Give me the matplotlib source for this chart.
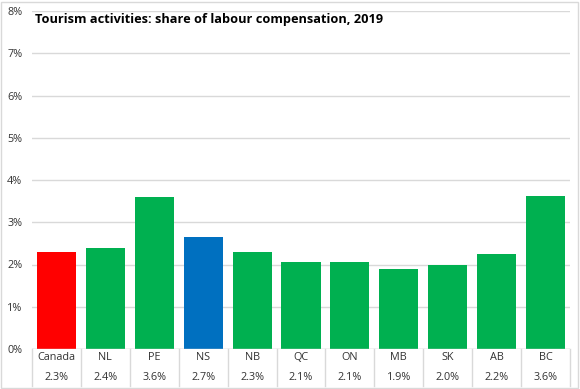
import matplotlib
matplotlib.use("Agg")
import matplotlib.pyplot as plt
from matplotlib.transforms import blended_transform_factory
from matplotlib.patches import Rectangle

categories = ["Canada", "NL", "PE", "NS", "NB", "QC", "ON", "MB", "SK", "AB", "BC"]
values = [2.30, 2.39, 3.60, 2.65, 2.30, 2.06, 2.06, 1.89, 1.99, 2.25, 3.62]
value_labels = ["2.3%", "2.4%", "3.6%", "2.7%", "2.3%", "2.1%", "2.1%", "1.9%", "2.0%", "2.2%", "3.6%"]
colors = ["#FF0000", "#00B050", "#00B050", "#0070C0", "#00B050", "#00B050",
          "#00B050", "#00B050", "#00B050", "#00B050", "#00B050"]
yticks = [0, 1, 2, 3, 4, 5, 6, 7, 8]
title = "Tourism activities: share of labour compensation, 2019"

W, H = 580, 389
fig = plt.figure(figsize=(W / 100, H / 100), dpi=100)
plt.rcParams['font.family'] = ['Open Sans', 'DejaVu Sans']

# outer border
fig.patches.append(Rectangle((1 / W, 1 / H), (W - 3) / W, (H - 3) / H, transform=fig.transFigure,
                             fill=False, edgecolor="#d9d9d9", linewidth=1))

left, right = 32 / W, 570 / W
bottom, top = (H - 349) / H, (H - 11) / H
ax = fig.add_axes([left, bottom, right - left, top - bottom])

x = list(range(len(categories)))
ax.bar(x, values, width=0.8, color=colors, zorder=3)
ax.set_xlim(-0.5, len(categories) - 0.5)
ax.set_ylim(0, 8)
ax.set_yticks(yticks)
ax.set_yticklabels([f"{t}%" for t in yticks], fontsize=7.8, color="#333333")
ax.tick_params(axis="y", length=0, pad=7)
ax.set_xticks([])
ax.grid(axis="y", color="#d9d9d9", linewidth=1, zorder=0)
for s in ax.spines.values():
    s.set_visible(False)
ax.axhline(0, color="#d9d9d9", linewidth=1, zorder=4)

# table-like category axis
tr = blended_transform_factory(ax.transData, ax.transAxes)
h_px = 349 - 11
y_bot = -(386 - 349) / h_px
for i in range(len(categories) + 1):
    ax.plot([i - 0.5, i - 0.5], [0, y_bot], transform=tr, color="#d9d9d9",
            linewidth=1, clip_on=False)
for i, (c, v) in enumerate(zip(categories, value_labels)):
    ax.text(i, -(358 - 349) / h_px, c, transform=tr, ha="center", va="center",
            fontsize=7.8, color="#333333")
    ax.text(i, -(377 - 349) / h_px, v, transform=tr, ha="center", va="center",
            fontsize=7.8, color="#333333")

fig.text(35 / W, 1 - 19 / H, title, fontsize=9.2, fontweight="bold", ha="left",
         va="center", color="black")

fig.savefig("out.png", dpi=100)
